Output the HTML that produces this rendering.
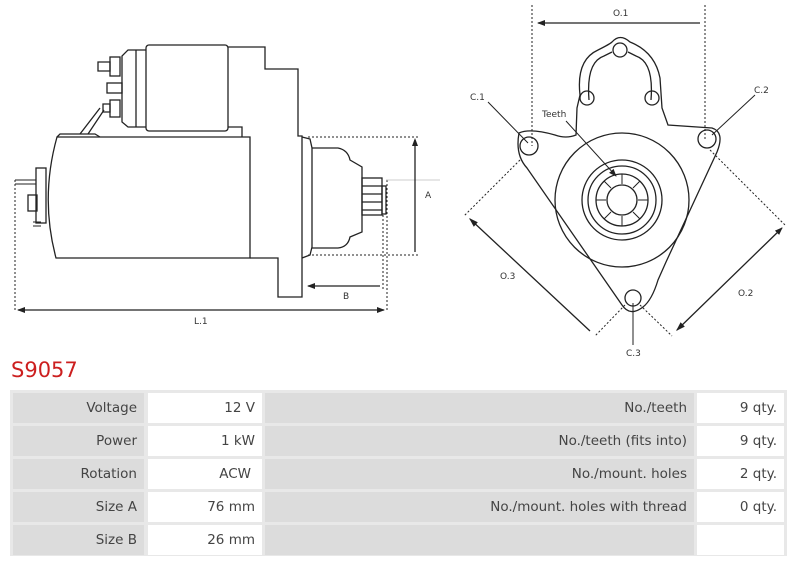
<!DOCTYPE html>
<html><head><meta charset="utf-8"><style>
body{margin:0;width:800px;height:561px;background:#fff;position:relative;overflow:hidden;font-family:"DejaVu Sans","Liberation Sans",sans-serif;}
.t{position:absolute;left:10px;top:390px;width:777px;height:166px;background:#e8e8e8;}
.c{position:absolute;height:30px;line-height:30px;font-size:13.5px;color:#444;text-align:right;box-sizing:border-box;padding-right:7px;}
.g{background:#dcdcdc}.w{background:#fff}
h1{position:absolute;left:11px;top:358px;margin:0;font-weight:normal;font-size:21px;color:#cc1f1f;}
</style></head><body>
<svg width="800" height="360" style="position:absolute;left:0;top:0" fill="none" stroke="#222" stroke-width="1.3" font-family="DejaVu Sans, sans-serif">
<defs>
<marker id="a" markerWidth="8" markerHeight="6" refX="7" refY="3" orient="auto" markerUnits="userSpaceOnUse"><path d="M0,0L8,3L0,6z" fill="#222" stroke="none"/></marker>
</defs>
<path d="M57,137 L250,137 L250,258 L56,258 Q40,198 57,137Z"/>
<path d="M57,137 L60,134 L95,134 L100,137"/>
<path d="M80,134 L100,108 M88,134 L104,110"/>
<rect x="146" y="45" width="82" height="86" rx="3"/>
<path d="M146,50 L128,50 L122,56 L122,122 L128,127 L146,127"/>
<path d="M136,50 L136,127"/>
<rect x="110" y="57" width="10" height="19"/><path d="M98,62 h12 v9 h-12z"/>
<rect x="107" y="83" width="15" height="10"/>
<rect x="110" y="100" width="10" height="17"/><path d="M103,104 h7 v8 h-7z"/>
<path d="M228,47 L265,47 L265,69 L298,69 L298,136 L302,136 L302,297 L278,297 L278,258 L250,258"/>
<path d="M228,127 L242,127 L242,137"/>
<path d="M302,137 L310,139 L312,148 L312,247 L310,255 L302,258"/>
<path d="M312,148 L338,148 Q348,150 350,160 L362,167 L362,232 L350,237 Q348,247 338,248 L312,248"/>
<rect x="362" y="178" width="20" height="37"/><path d="M362,186 h20 M362,194 h20 M362,202 h20 M362,210 h20"/><rect x="382" y="186" width="4" height="28"/>
<rect x="36" y="168" width="10" height="55"/><rect x="28" y="195" width="9" height="16"/>
<path d="M15,180 h21 M15,184 h21 M33,222 h8 M33,226 h8" stroke-width="1"/>
<g stroke-dasharray="2,2" stroke-width="1"><path d="M308,137 H418 M308,255 H418 M15,180 V312 M387,180 V312 M383,215 V290"/></g>
<path d="M386,180 H440" stroke="#bbb" stroke-width="0.7"/>
<path d="M415,140 V252 M308,286 H380 M18,310 H384" marker-end="url(#a)"/>
<g fill="#222" stroke="none">
<path d="M412,146 L415,138 L418,146Z"/>
<path d="M307,286 L315,283 L315,289Z"/>
<path d="M17,310 L25,307 L25,313Z"/>
<path d="M537,23 L545,20 L545,26Z"/>
<path d="M469,218 L473.8,226.7 L477.8,222.3Z"/>
<path d="M676,331 L684.8,326.6 L680.6,322.3Z"/>
</g>
<g fill="#333" stroke="none" font-size="9"><text x="425" y="198">A</text><text x="343" y="299">B</text><text x="194" y="324">L.1</text></g>
<path d="M519,133 Q530,128 555,135 Q566,139 576,135 L577,108 L580,95 Q576,60 598,50 Q610,44 612,42 Q620,33 630,42 Q655,52 660,78 L662,108 L668,125 L712,128 Q725,132 717,152 L666,262 L658,280 Q652,300 643,307 Q630,317 622,305 L527,168 Q515,155 519,133Z"/>
<path d="M589,100 Q586,62 604,56 L612,52 M651,100 Q654,62 636,56 L628,52"/>
<circle cx="529" cy="146" r="9"/><circle cx="707" cy="139" r="9"/><circle cx="633" cy="298" r="8"/>
<circle cx="620" cy="50" r="7"/><circle cx="587" cy="98" r="7"/><circle cx="652" cy="98" r="7"/>
<circle cx="622" cy="200" r="67"/><circle cx="622" cy="200" r="40"/><circle cx="622" cy="200" r="34"/><circle cx="622" cy="200" r="26"/><circle cx="622" cy="200" r="15"/>
<g stroke-width="1"><path d="M622,174 v10 M640,181 l-7,7 M648,200 h-10 M640,219 l-7,-7 M622,226 v-10 M604,219 l7,-7 M596,200 h10 M604,181 l7,7"/></g>
<g stroke-dasharray="2,2" stroke-width="1"><path d="M532,5 V146 M705,5 V140 M520,160 L464,216 M710,150 L785,225 M625,305 L595,336 M640,305 L672,336"/></g>
<path d="M538,23 H700 M470,219 L590,331 M677,330 L782,228" marker-end="url(#a)"/>
<path d="M488,102 L528,143 M755,95 L712,135 M633,345 L633,303 M566,121 L616,176" marker-end="url(#a)" stroke-width="1"/>
<g fill="#333" stroke="none" font-size="9"><text x="613" y="16">O.1</text><text x="470" y="100">C.1</text><text x="754" y="93">C.2</text><text x="626" y="356">C.3</text><text x="542" y="117">Teeth</text><text x="500" y="279">O.3</text><text x="738" y="296">O.2</text></g>
</svg>
<h1>S9057</h1>
<div class="t">
<div class="c g" style="left:3px;top:3px;width:131px">Voltage</div><div class="c w" style="left:138px;top:3px;width:114px">12 V</div><div class="c g" style="left:255px;top:3px;width:429px">No./teeth</div><div class="c w" style="left:687px;top:3px;width:87px">9 qty.</div>
<div class="c g" style="left:3px;top:36px;width:131px">Power</div><div class="c w" style="left:138px;top:36px;width:114px">1 kW</div><div class="c g" style="left:255px;top:36px;width:429px">No./teeth (fits into)</div><div class="c w" style="left:687px;top:36px;width:87px">9 qty.</div>
<div class="c g" style="left:3px;top:69px;width:131px">Rotation</div><div class="c w" style="left:138px;top:69px;width:114px;padding-right:11px">ACW</div><div class="c g" style="left:255px;top:69px;width:429px">No./mount. holes</div><div class="c w" style="left:687px;top:69px;width:87px">2 qty.</div>
<div class="c g" style="left:3px;top:102px;width:131px">Size A</div><div class="c w" style="left:138px;top:102px;width:114px">76 mm</div><div class="c g" style="left:255px;top:102px;width:429px">No./mount. holes with thread</div><div class="c w" style="left:687px;top:102px;width:87px">0 qty.</div>
<div class="c g" style="left:3px;top:135px;width:131px">Size B</div><div class="c w" style="left:138px;top:135px;width:114px">26 mm</div><div class="c g" style="left:255px;top:135px;width:429px"></div><div class="c w" style="left:687px;top:135px;width:87px"></div>
</div>
</body></html>
